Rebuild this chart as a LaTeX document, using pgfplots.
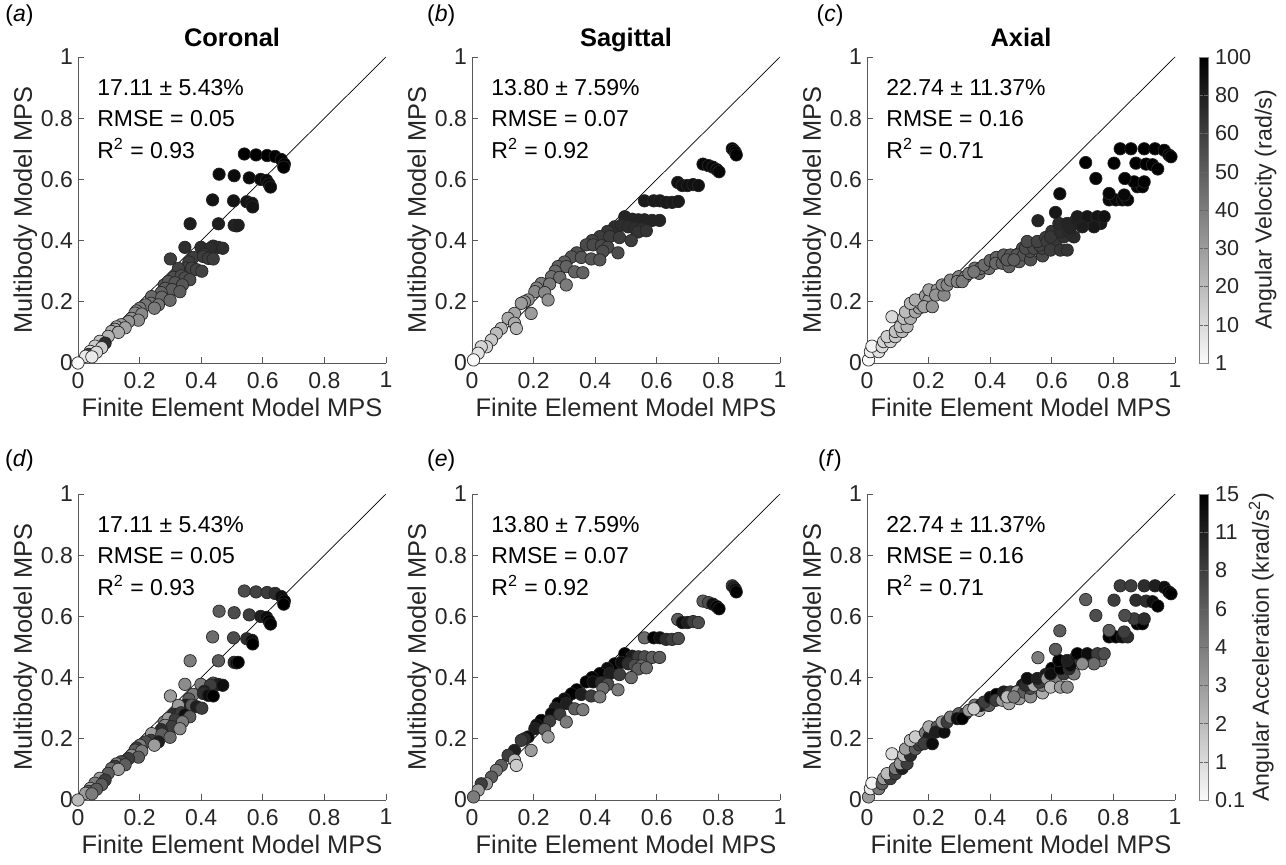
\documentclass[border=0pt]{standalone}
\usepackage{pgfplots}
\usepackage{pgfplotstable}
\pgfplotsset{compat=1.18}
\usepackage{fontspec}
\setmainfont{Liberation Sans}

\pgfplotstableread{
x y v a
0.540 0.683 8 5.5
0.578 0.680 8 5.8
0.614 0.678 8 6
0.640 0.675 8 6.5
0.660 0.665 8 7.5
0.670 0.650 8 8
0.668 0.640 8 8
0.458 0.617 7.6 5
0.507 0.612 7.6 5.5
0.556 0.605 7.6 6
0.593 0.600 7.6 7
0.612 0.597 7.6 7.5
0.620 0.585 7.6 8
0.625 0.575 7.6 8
0.437 0.533 7.3 4.5
0.505 0.530 7.3 5.5
0.548 0.527 7.3 6.5
0.565 0.522 7.3 7.5
0.567 0.510 7.3 8
0.364 0.455 7 4
0.456 0.455 7 5
0.507 0.450 7 6.5
0.515 0.448 7 7.8
0.520 0.450 7 8
0.347 0.378 6.5 3.5
0.399 0.378 6.5 4
0.439 0.382 6.5 5.5
0.455 0.378 6.5 7
0.470 0.375 6.5 7.5
0.430 0.375 6.5 6
0.410 0.355 6.2 7
0.300 0.340 6 3
0.374 0.345 6 4
0.407 0.348 6 6.5
0.423 0.342 6 7.5
0.439 0.340 6 8
0.360 0.330 6 5
0.350 0.310 5.8 7
0.326 0.309 5.8 3
0.369 0.310 5.8 5
0.385 0.305 5.8 7
0.402 0.300 5.8 6
0.310 0.280 5.5 6.5
0.335 0.285 5.5 6
0.347 0.278 5.5 7.5
0.363 0.272 5.5 5
0.280 0.255 5.2 4
0.293 0.266 5.2 3
0.315 0.262 5.2 6
0.339 0.255 5.2 4
0.283 0.244 5 3.5
0.305 0.240 5 6
0.331 0.233 5 3.5
0.270 0.230 4.8 6.5
0.239 0.217 4.6 3
0.272 0.215 4.6 5
0.299 0.205 4.6 4.5
0.237 0.195 4.2 6
0.261 0.190 4.2 7
0.220 0.190 4.2 5.5
0.201 0.179 4 4
0.248 0.179 4 3
0.190 0.170 3.8 6
0.185 0.163 3.6 5
0.207 0.160 3.6 4
0.174 0.146 3.4 3.5
0.196 0.140 3.4 5
0.164 0.135 3.2 6
0.140 0.125 3 5.5
0.125 0.118 2.8 4
0.153 0.115 2.8 5
0.120 0.110 2.6 6
0.109 0.103 2.5 4.5
0.131 0.100 2.5 3
0.098 0.087 2.2 5
0.071 0.071 1.8 3
0.088 0.065 6.5 6
0.055 0.055 1.5 4
0.077 0.050 1.5 5
0.040 0.038 1 3
0.035 0.028 6 5
0.060 0.035 1 5
0.025 0.022 0.5 3
0.045 0.020 0.5 4
0.000 0.000 0 2
}\coronal

\pgfplotstableread{
x y v a
0.845 0.700 8 6
0.850 0.695 8 7
0.855 0.688 8 7.5
0.858 0.680 8 8
0.750 0.650 7.7 5
0.768 0.645 7.7 5.5
0.782 0.640 7.7 7.5
0.795 0.632 7.7 8
0.802 0.625 7.7 8
0.668 0.590 7.4 5
0.683 0.580 7.4 7.5
0.700 0.580 7.4 7
0.718 0.583 7.4 6
0.735 0.580 7.4 5.5
0.560 0.530 7.1 4.5
0.590 0.530 7.1 8
0.610 0.530 7.1 7.5
0.630 0.525 7.1 6.5
0.650 0.525 7.1 6
0.670 0.528 7.1 5.5
0.496 0.478 6.8 8
0.520 0.470 6.8 7
0.540 0.468 6.8 6
0.560 0.468 6.8 5.5
0.585 0.466 6.8 5
0.609 0.466 6.8 5
0.463 0.445 6.5 8
0.485 0.450 6.5 7.5
0.507 0.445 6.5 6.5
0.528 0.440 6.5 5.5
0.550 0.438 6.5 4.5
0.539 0.428 6.3 5
0.566 0.432 6.3 4.5
0.440 0.430 6.2 7.5
0.415 0.413 6 8
0.447 0.413 6 7
0.479 0.410 6 6
0.517 0.400 6 4.5
0.390 0.400 5.8 8
0.371 0.386 5.6 8
0.393 0.386 5.6 7.5
0.420 0.383 5.6 6.5
0.441 0.378 5.6 5.5
0.425 0.365 5.5 4.5
0.474 0.360 5.5 4
0.340 0.360 5.4 8
0.323 0.347 5.2 8
0.355 0.345 5.2 7
0.387 0.340 5.2 6
0.415 0.337 5.2 4
0.300 0.330 5 7.5
0.279 0.315 4.8 8
0.306 0.315 4.8 7
0.333 0.298 4.8 5
0.360 0.295 4.8 4
0.270 0.300 4.6 7
0.258 0.282 4.4 7.5
0.285 0.280 4.4 6
0.225 0.260 4 8
0.252 0.258 4 6
0.306 0.255 4 4
0.210 0.245 3.8 7.5
0.204 0.233 3.6 7
0.236 0.230 3.6 5
0.182 0.206 3.3 7.5
0.247 0.206 3.3 3
0.170 0.200 3.2 6.5
0.160 0.195 3 6
0.192 0.162 3 3
0.138 0.162 2.7 7
0.117 0.146 2.5 6
0.138 0.130 2.5 2
0.095 0.113 2.2 5
0.144 0.113 2.2 1.5
0.079 0.097 2 4
0.063 0.075 1.6 5
0.047 0.053 1.2 3
0.030 0.053 1.2 6
0.020 0.032 0.8 3
0.005 0.010 0 4
}\sagittal

\pgfplotstableread{
x y v a
0.005 0.010 0 3
0.011 0.037 0.3 0.5
0.038 0.037 0.8 4
0.016 0.055 0.2 0.2
0.049 0.053 1 5
0.054 0.070 1.2 3
0.076 0.070 1.3 6
0.065 0.086 1.4 2
0.092 0.086 1.6 6
0.092 0.103 1.8 4
0.114 0.103 2 7
0.108 0.119 1.8 3
0.130 0.119 2.2 6
0.081 0.151 1 1
0.119 0.146 1.8 2
0.141 0.146 2.4 6.5
0.125 0.167 2 3
0.157 0.167 2.6 5
0.170 0.180 2.7 6
0.141 0.195 2.2 2
0.174 0.195 2.6 5
0.157 0.206 2.4 1.5
0.190 0.220 3 4
0.201 0.206 3 7
0.185 0.184 2.8 6
0.212 0.184 3.2 7.5
0.201 0.239 2.8 2.5
0.228 0.239 3.2 5
0.223 0.222 3.2 7
0.250 0.222 3.6 7.5
0.244 0.255 3.4 3
0.260 0.255 3.6 6
0.271 0.271 3.6 4
0.298 0.282 3.8 5
0.320 0.282 4 6
0.293 0.266 3.8 7.5
0.309 0.266 4 8
0.331 0.293 4 3
0.364 0.293 4.2 2
0.350 0.310 4.3 4
0.369 0.309 4.4 7
0.396 0.309 4.4 5
0.347 0.298 4.2 1.5
0.380 0.320 4.5 6
0.400 0.335 4.7 7.5
0.420 0.345 4.8 8
0.418 0.326 4.6 6
0.439 0.326 4.8 3
0.461 0.315 4.8 2.5
0.450 0.342 5 6
0.478 0.342 5 7
0.494 0.358 5.2 6.5
0.516 0.358 5.4 3
0.505 0.375 5.4 7
0.521 0.391 5.6 5
0.494 0.331 5 3
0.444 0.353 5 7
0.466 0.353 5.1 6
0.487 0.353 5.2 3
0.509 0.353 5.3 5
0.455 0.337 5 2
0.477 0.337 5 4
0.531 0.337 5.4 3.5
0.530 0.365 5.5 5.5
0.570 0.350 5.6 2.5
0.515 0.375 5.5 6.5
0.542 0.375 5.6 2.5
0.569 0.375 5.8 4
0.560 0.385 5.8 6
0.520 0.397 5.6 7.5
0.553 0.397 5.8 7
0.580 0.410 6 7
0.585 0.397 6 3
0.612 0.397 6.2 4
0.596 0.369 6 2
0.628 0.369 6.2 3
0.650 0.369 6.3 3.5
0.600 0.430 6.3 8
0.596 0.412 6.2 7.5
0.639 0.412 6.4 6
0.672 0.412 6.6 4
0.628 0.429 6.5 8
0.656 0.429 6.6 6.5
0.660 0.440 6.8 7.5
0.623 0.456 6.6 8
0.650 0.456 6.8 7
0.680 0.470 7 7.5
0.694 0.456 7 6
0.726 0.456 7 5
0.759 0.456 7.2 4
0.683 0.478 7 8
0.715 0.478 7.2 7.5
0.748 0.478 7.3 6
0.770 0.478 7.4 5.5
0.737 0.445 7.2 4.5
0.699 0.445 7 3.5
0.555 0.465 6.8 4
0.612 0.492 7.2 5
0.626 0.553 7.6 5
0.743 0.603 7.8 5.5
0.710 0.655 8 5
0.786 0.533 7.7 8
0.808 0.533 7.7 8
0.829 0.533 7.7 7.5
0.846 0.533 7.7 6.5
0.786 0.554 7.7 5
0.835 0.549 7.7 6
0.878 0.576 7.9 8
0.894 0.576 7.9 8
0.867 0.592 7.9 6
0.900 0.592 7.9 6.5
0.837 0.603 7.9 5.5
0.802 0.653 8 6
0.873 0.653 8 6.5
0.906 0.650 8 6.5
0.927 0.648 8 7.5
0.944 0.634 8 8
0.822 0.700 8 6
0.857 0.700 8 6
0.900 0.700 8 6.5
0.935 0.700 8 7
0.965 0.695 8 7.5
0.980 0.680 8 8
0.987 0.674 8 8
}\axial

\newcommand{\fs}{\fontsize{11.5}{13}\selectfont}
\newcommand{\fl}{\fontsize{12.7}{14}\selectfont}
\newcommand{\fa}{\fontsize{11.5}{13}\selectfont}
\newcommand{\fc}{\fontsize{10.8}{12}\selectfont}
\newcommand{\fcl}{\fontsize{11.6}{13}\selectfont}

\pgfplotsset{
  panel/.style={
    scale only axis, width=154pt, height=153pt,
    anchor=south west, clip=false,
    xmin=0, xmax=1, ymin=0, ymax=1,
    axis x line*=bottom, axis y line*=left,
    axis line style={black!65, line width=0.4pt},
    tick align=inside,
    major tick length=3pt,
    tick style={black!65, line width=0.4pt},
    xtick={0,0.2,0.4,0.6,0.8,1}, ytick={0,0.2,0.4,0.6,0.8,1},
    xticklabels={0,0.2,0.4,0.6,0.8,1}, yticklabels={0,0.2,0.4,0.6,0.8,1},
    ticklabel style={font=\fs, text=black!85},
    xticklabel style={yshift=-1pt},
    yticklabel style={xshift=1pt},
    label style={font=\fl, text=black!85},
    xlabel={Finite Element Model MPS},
    ylabel={Multibody Model MPS},
    xlabel style={yshift=2pt},
    ylabel style={yshift=-5pt},
    colormap={wb}{gray(0cm)=(0.98); gray(1cm)=(0)},
    point meta min=0, point meta max=8,
  },
  pts/.style={scatter, only marks, mark=*, mark size=3.1pt,
    scatter src=explicit,
    scatter/use mapped color={draw=black!85, fill=mapped color},
    mark options={line width=0.35pt}},
  diag/.style={black, line width=0.35pt, no marks},
  cbar/.style={colorbar,
    colorbar style={
      at={(1.078,1)}, anchor=north west, width=4.5pt,
      axis line style={black!50, line width=0.3pt},
      ytick={0,1,2,3,4,5,6,7,8},
      tick align=inside, major tick length=2pt,
      tick style={black!60},
      yticklabel style={font=\fc, text=black!85, xshift=0pt},
      ylabel style={font=\fcl, text=black!85, yshift=5pt},
    }},
}

\newcommand{\stats}[3]{%
  \node[anchor=west, font=\fa, text=black] at (axis cs:0.04,0.9) {#1};
  \node[anchor=west, font=\fa, text=black] at (axis cs:0.04,0.8) {RMSE = #2};
  \node[anchor=west, font=\fa, text=black] at (axis cs:0.04,0.7) {R\textsuperscript{2} = #3};
}
\newcommand{\ttl}[1]{%
  \node[anchor=base, font=\bfseries\fl, text=black] at (rel axis cs:0.5,1.033) {#1};
}

\begin{document}
\begin{tikzpicture}
\useasboundingbox (0,0) rectangle (643pt,432pt);
% ---------- top row ----------
\begin{axis}[panel, at={(39pt,250.5pt)}]
  \addplot[diag] coordinates {(0,0) (1,1)};
  \addplot[pts] table[x=x, y=y, meta=v] {\coronal};
  \stats{17.11 ± 5.43\%}{0.05}{0.93}
  \ttl{Coronal}
  \node[font=\fa] at (rel axis cs:-0.19,1.135) {(\textit{a})};
\end{axis}
\begin{axis}[panel, at={(236pt,250.5pt)}]
  \addplot[diag] coordinates {(0,0) (1,1)};
  \addplot[pts] table[x=x, y=y, meta=v] {\sagittal};
  \stats{13.80 ± 7.59\%}{0.07}{0.92}
  \ttl{Sagittal}
  \node[font=\fa] at (rel axis cs:-0.10,1.135) {(\textit{b})};
\end{axis}
\begin{axis}[panel, at={(433.5pt,250.5pt)}, cbar,
  colorbar style={yticklabels={1,10,20,30,40,50,60,80,100},
  ylabel={Angular Velocity (rad/s)}}]
  \addplot[diag] coordinates {(0,0) (1,1)};
  \addplot[pts] table[x=x, y=y, meta=v] {\axial};
  \stats{22.74 ± 11.37\%}{0.16}{0.71}
  \ttl{Axial}
  \node[font=\fa] at (rel axis cs:-0.12,1.135) {(\textit{c})};
\end{axis}
% ---------- bottom row ----------
\begin{axis}[panel, at={(39pt,32pt)}]
  \addplot[diag] coordinates {(0,0) (1,1)};
  \addplot[pts] table[x=x, y=y, meta=a] {\coronal};
  \stats{17.11 ± 5.43\%}{0.05}{0.93}
  \node[font=\fa] at (rel axis cs:-0.19,1.11) {(\textit{d})};
\end{axis}
\begin{axis}[panel, at={(236pt,32pt)}]
  \addplot[diag] coordinates {(0,0) (1,1)};
  \addplot[pts] table[x=x, y=y, meta=a] {\sagittal};
  \stats{13.80 ± 7.59\%}{0.07}{0.92}
  \node[font=\fa] at (rel axis cs:-0.10,1.11) {(\textit{e})};
\end{axis}
\begin{axis}[panel, at={(433.5pt,32pt)}, cbar,
  colorbar style={yticklabels={0.1,1,2,3,4,6,8,11,15},
  ylabel={Angular Acceleration (krad/s\textsuperscript{2})}}]
  \addplot[diag] coordinates {(0,0) (1,1)};
  \addplot[pts] table[x=x, y=y, meta=a] {\axial};
  \stats{22.74 ± 11.37\%}{0.16}{0.71}
  \node[font=\fa] at (rel axis cs:-0.12,1.11) {(\textit{f})};
\end{axis}
\end{tikzpicture}
\end{document}
